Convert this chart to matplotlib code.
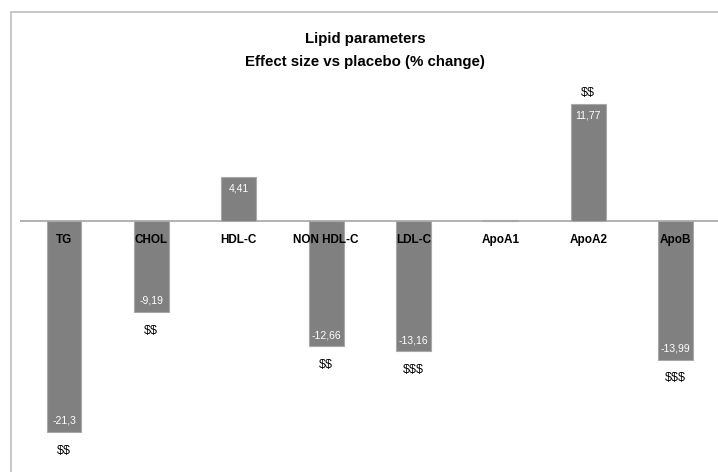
import matplotlib
matplotlib.use("Agg")
import matplotlib.pyplot as plt
from matplotlib import font_manager as fm
from matplotlib.patches import Rectangle

# narrow sans if available, otherwise regular Liberation
names = {f.name for f in fm.fontManager.ttflist}
FONT = 'Liberation Sans Narrow' if 'Liberation Sans Narrow' in names else 'Liberation Sans'
plt.rcParams['font.family'] = [FONT, 'DejaVu Sans']

categories = ['TG', 'CHOL', 'HDL-C', 'NON HDL-C', 'LDL-C', 'ApoA1', 'ApoA2', 'ApoB']
values = [-21.3, -9.19, 4.41, -12.66, -13.16, 0.1, 11.77, -13.99]
show_value = [True, True, True, True, True, False, True, True]
significance = ['$$', '$$', '', '$$', '$$$', '', '$$', '$$$']

W, H = 718, 472
fig = plt.figure(figsize=(W / 100, H / 100), dpi=100)

# outer chart border (runs off the right and bottom edges)
fig.patches.append(Rectangle((11 / W, -0.05), 1.0, 1 - 12 / H + 0.05,
                             transform=fig.transFigure, fill=False,
                             edgecolor='#bdbdbd', lw=1.2))

ax = fig.add_axes([20.3 / W, 0, 699 / W, (H - 60) / H])
x = range(len(categories))
ax.bar(x, values, width=0.40, color='#808080', edgecolor='#a8a8a8', lw=0.8, zorder=2)
ax.axhline(0, color='#a6a6a6', lw=1.2, zorder=1)
ax.set_xlim(-0.5, 7.5)
ax.set_ylim(-25.35, 16.26)
ax.axis('off')

for i, (cat, v) in enumerate(zip(categories, values)):
    ax.annotate(cat, (i, 0), xytext=(0, -14), textcoords='offset points',
                ha='center', va='center', fontsize=8.5, fontweight='bold', zorder=3)
    sgn = 1 if v >= 0 else -1
    if show_value[i]:
        lab = f"{v:g}".replace('.', ',')
        ax.annotate(lab, (i, v), xytext=(0, -8 * sgn), textcoords='offset points',
                    ha='center', va='center', fontsize=7.5, color='white', zorder=3)
    if significance[i]:
        off = 8.5 if sgn > 0 else -13.5
        ax.annotate(significance[i], (i, v), xytext=(0, off),
                    textcoords='offset points', ha='center', va='center',
                    fontsize=9, color='black', parse_math=False)

fig.text(365 / W, 1 - 39 / H, 'Lipid parameters', ha='center', va='center',
         fontsize=10.8, fontweight='bold')
fig.text(365 / W, 1 - 62 / H, 'Effect size vs placebo (% change)', ha='center',
         va='center', fontsize=10.8, fontweight='bold')

fig.savefig('out.png', dpi=100, facecolor='white')
